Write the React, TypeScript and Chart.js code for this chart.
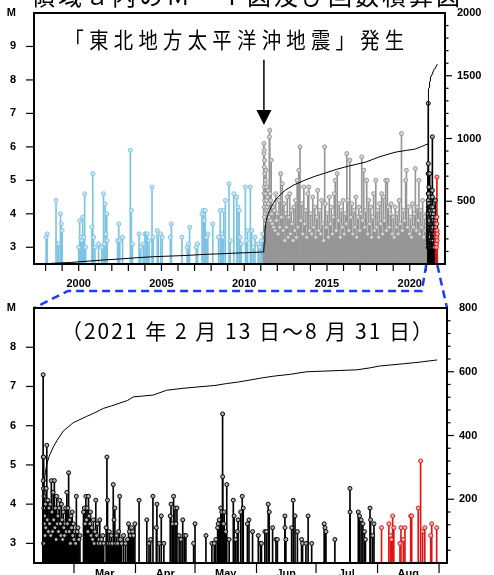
import React, { useEffect, useRef } from "react";
import { Chart, registerables } from "chart.js";

Chart.register(...registerables);

// ---------------- data ----------------
const stemBase = 2.5;
const topYearTicks = [1998, 1999, 2000, 2001, 2002, 2003, 2004, 2005, 2006, 2007, 2008, 2009, 2010, 2011, 2012, 2013, 2014, 2015, 2016, 2017, 2018, 2019, 2020, 2021];
const topYearLabels = [2000, 2005, 2010, 2015, 2020];
const topMTicks = [3, 4, 5, 6, 7, 8, 9, 10];
const bottomMTicks = [3, 4, 5, 6, 7, 8, 9];
const monthStarts = [59, 90, 120, 151, 181, 212, 243];
const monthMids = [74.5, 105, 135.5, 166, 196.5, 227.5];
const monthLabels = ["Mar", "Apr", "May", "Jun", "Jul", "Aug"];
const mainshockYear = 2011.19;
const augStartDay = 212;
const zoomFromDay = 43;
const zoomToDay = 243;

// [decimal year, M]  before the 2011 mainshock
const blueQuakes: [number, number][] = [
  [1998.03, 3.3], [1998.1, 3.4], [1998.63, 4.4], [1998.72, 3.1], [1998.8, 3.1], [1998.9, 4.0], [1998.95, 3.7], [1999.0, 3.5],
  [2000.0, 3.0], [2000.06, 3.8], [2000.12, 3.3], [2000.18, 3.2], [2000.24, 3.9], [2000.3, 3.3], [2000.36, 4.6], [2000.42, 3.0],
  [2000.8, 3.6], [2000.85, 5.2], [2000.9, 3.3], [2000.98, 3.0], [2001.2, 3.1], [2001.4, 3.0], [2001.5, 4.6], [2001.55, 3.1],
  [2001.6, 4.3], [2001.65, 3.4], [2001.7, 4.0], [2001.72, 3.2], [2002.35, 3.2], [2002.42, 3.7], [2002.48, 3.2], [2002.65, 3.3],
  [2003.12, 5.9], [2003.18, 4.1], [2003.25, 3.1], [2003.65, 3.4], [2003.75, 3.0], [2003.9, 3.1], [2004.0, 3.4], [2004.08, 3.4],
  [2004.15, 3.4], [2004.25, 3.2], [2004.43, 4.8], [2004.5, 3.3], [2004.75, 3.5], [2004.8, 3.4], [2004.95, 3.4], [2005.05, 3.3],
  [2005.54, 3.3], [2005.6, 3.7], [2006.24, 3.3], [2006.55, 3.0], [2006.62, 3.1], [2006.7, 3.6], [2007.1, 3.0], [2007.18, 3.1],
  [2007.45, 4.0], [2007.52, 4.1], [2007.58, 3.8], [2007.65, 4.1], [2007.72, 3.3], [2007.8, 3.4], [2008.1, 3.7], [2008.45, 3.3],
  [2008.55, 4.1], [2008.65, 3.4], [2008.7, 3.3], [2008.76, 4.1], [2008.86, 4.4], [2009.08, 4.9], [2009.15, 3.2], [2009.37, 4.6],
  [2009.55, 4.5], [2009.62, 4.2], [2009.7, 4.1], [2009.75, 3.3], [2009.82, 3.1], [2010.07, 4.8], [2010.12, 3.2], [2010.2, 3.5],
  [2010.37, 4.8], [2010.45, 3.5], [2010.55, 3.0], [2010.65, 3.3], [2010.84, 3.1], [2010.95, 3.0], [2011.05, 3.2], [2011.12, 3.4],
];

// [decimal year, M]  mainshock to Feb 2021
const grayQuakes: [number, number][] = [
  [2011.19, 6.1], [2011.195, 5.8], [2011.2, 4.6], [2011.205, 5.9], [2011.21, 4.2], [2011.215, 5.4], [2011.22, 4.8], [2011.225, 3.9],
  [2011.23, 5.6], [2011.235, 4.4], [2011.24, 5.2], [2011.25, 4.0], [2011.26, 4.9], [2011.27, 3.7], [2011.28, 5.0], [2011.29, 4.3],
  [2011.3, 4.6], [2011.31, 3.8], [2011.32, 5.3], [2011.33, 4.1], [2011.34, 4.4], [2011.36, 4.8], [2011.38, 4.2], [2011.4, 4.5],
  [2011.42, 4.0], [2011.44, 4.7], [2011.46, 4.3], [2011.48, 3.9], [2011.5, 4.1], [2011.52, 6.3], [2011.54, 6.5], [2011.56, 4.6],
  [2011.58, 3.8], [2011.6, 4.4], [2011.63, 5.6], [2011.66, 4.0], [2011.7, 3.7], [2011.74, 4.2], [2011.78, 3.6], [2011.82, 4.1],
  [2011.86, 3.5], [2011.9, 4.6], [2011.95, 3.8], [2012.0, 4.0], [2012.05, 3.4], [2012.1, 4.4], [2012.15, 3.6], [2012.2, 5.2],
  [2012.25, 3.9], [2012.3, 4.9], [2012.35, 3.5], [2012.4, 4.3], [2012.45, 3.2], [2012.5, 4.0], [2012.55, 3.6], [2012.6, 4.5],
  [2012.65, 3.3], [2012.7, 3.9], [2012.75, 4.6], [2012.8, 3.4], [2012.85, 4.1], [2012.9, 3.7], [2012.95, 3.2], [2013.0, 4.2],
  [2013.05, 3.5], [2013.1, 4.4], [2013.15, 3.3], [2013.2, 5.0], [2013.25, 3.6], [2013.3, 5.3], [2013.37, 6.0], [2013.42, 3.8],
  [2013.48, 4.3], [2013.54, 3.4], [2013.6, 4.8], [2013.66, 3.7], [2013.72, 4.1], [2013.78, 3.3], [2013.84, 4.6], [2013.9, 4.8],
  [2013.96, 3.5], [2014.02, 4.0], [2014.08, 3.4], [2014.14, 4.5], [2014.2, 3.6], [2014.26, 4.2], [2014.32, 3.3], [2014.38, 3.9],
  [2014.44, 4.7], [2014.5, 3.5], [2014.56, 4.1], [2014.62, 3.4], [2014.68, 4.4], [2014.74, 3.7], [2014.8, 3.2], [2014.86, 6.0],
  [2014.9, 4.3], [2014.96, 3.6], [2015.02, 4.0], [2015.08, 3.3], [2015.14, 4.5], [2015.2, 3.7], [2015.26, 4.2], [2015.32, 3.4],
  [2015.38, 3.9], [2015.44, 4.6], [2015.5, 5.0], [2015.56, 3.5], [2015.62, 5.2], [2015.68, 3.8], [2015.74, 4.3], [2015.8, 3.3],
  [2015.86, 4.1], [2015.92, 3.6], [2015.98, 4.4], [2016.04, 3.4], [2016.1, 4.0], [2016.16, 3.7], [2016.2, 5.8], [2016.26, 4.4],
  [2016.32, 3.5], [2016.38, 5.6], [2016.44, 3.9], [2016.5, 4.3], [2016.56, 3.4], [2016.62, 4.1], [2016.68, 3.6], [2016.74, 4.5],
  [2016.8, 3.3], [2016.86, 3.9], [2016.92, 4.2], [2016.98, 3.5], [2017.05, 4.0], [2017.1, 5.7], [2017.16, 3.8], [2017.22, 5.3],
  [2017.28, 3.6], [2017.34, 4.1], [2017.4, 5.0], [2017.46, 3.4], [2017.52, 4.4], [2017.58, 3.7], [2017.64, 4.2], [2017.7, 3.3],
  [2017.76, 3.9], [2017.82, 4.6], [2017.88, 3.5], [2017.95, 5.0], [2018.0, 3.6], [2018.06, 4.1], [2018.12, 3.3], [2018.18, 4.3],
  [2018.24, 3.7], [2018.3, 4.6], [2018.36, 3.4], [2018.42, 4.5], [2018.48, 3.8], [2018.55, 5.0], [2018.6, 3.5], [2018.65, 5.0],
  [2018.7, 4.2], [2018.76, 3.6], [2018.82, 4.0], [2018.88, 4.3], [2018.94, 3.4], [2019.0, 3.9], [2019.06, 3.3], [2019.12, 4.2],
  [2019.18, 3.6], [2019.24, 4.0], [2019.3, 3.4], [2019.36, 4.4], [2019.42, 3.7], [2019.5, 6.4], [2019.56, 3.5], [2019.62, 4.1],
  [2019.68, 3.8], [2019.75, 5.0], [2019.8, 5.3], [2019.86, 3.6], [2019.92, 4.2], [2019.98, 3.4], [2020.04, 3.9], [2020.1, 3.3],
  [2020.16, 4.3], [2020.22, 3.6], [2020.28, 4.0], [2020.34, 5.35], [2020.4, 3.5], [2020.45, 4.2], [2020.5, 3.8], [2020.55, 5.0],
  [2020.6, 3.4], [2020.66, 4.1], [2020.72, 3.6], [2020.78, 4.4], [2020.84, 3.3], [2020.9, 3.9], [2020.96, 3.5], [2021.02, 4.0],
  [2021.08, 3.4], [2021.11, 3.7],
];

// [day of 2021 (Jan 1 = 0), M]  Feb 13 - Aug 31, 2021
const quakes2021: [number, number][] = [
  [43.45, 7.3], [43.5, 5.2], [43.55, 4.6], [43.6, 4.4], [43.65, 3.0], [43.7, 5.2], [43.8, 3.9], [43.9, 4.2], [44.0, 3.5], [44.2, 3.7],
  [44.4, 3.2], [44.6, 4.0], [44.8, 3.4], [45.0, 4.4], [45.3, 5.5], [45.5, 3.6], [45.8, 4.1], [46.1, 3.3], [46.4, 3.9], [46.7, 3.5],
  [47.0, 4.0], [47.3, 3.2], [47.6, 4.6], [47.9, 3.8], [48.2, 3.3], [48.5, 4.3], [48.8, 3.6], [49.1, 4.6], [49.4, 3.4], [49.7, 3.9],
  [50.0, 3.1], [50.3, 4.2], [50.6, 3.5], [50.9, 3.7], [51.2, 3.3], [51.5, 3.9], [51.8, 4.1], [52.1, 3.5], [52.4, 3.2], [52.7, 4.0],
  [53.0, 3.6], [53.3, 3.1], [53.6, 3.8], [53.9, 3.4], [54.2, 3.2], [54.5, 3.5], [54.8, 3.9], [55.1, 3.3], [55.4, 4.3], [55.7, 3.5],
  [56.0, 3.9], [56.3, 4.8], [56.6, 3.3], [56.9, 3.6], [57.2, 3.0], [57.5, 3.7], [57.8, 3.4], [58.1, 3.8], [58.4, 3.2], [58.7, 3.5],
  [59.0, 3.1], [59.4, 3.3], [59.8, 3.0], [60.2, 4.2], [60.6, 3.3], [61.0, 3.4], [61.5, 3.1], [62.0, 3.2],
  [63.8, 3.8], [64.2, 3.9], [64.6, 3.5], [65.0, 4.2], [65.3, 3.6], [65.6, 3.9], [66.0, 3.3], [66.3, 4.2], [66.6, 3.7], [67.0, 3.5],
  [67.3, 3.8], [67.6, 3.2], [68.0, 3.4], [68.4, 3.1], [68.8, 3.6], [69.2, 3.0], [69.6, 3.3], [70.0, 4.1], [70.4, 3.2], [70.8, 3.5],
  [71.2, 3.0], [71.6, 3.1], [72.0, 3.6], [72.4, 3.0], [72.9, 3.1], [73.5, 3.2], [74.0, 3.0],
  [75.2, 3.4], [75.6, 5.2], [75.9, 4.1], [76.3, 3.0], [76.8, 3.3], [77.3, 3.0], [77.8, 3.2], [78.3, 3.0], [78.8, 4.5], [79.2, 3.6],
  [79.6, 3.9], [80.0, 3.0], [80.5, 3.2], [81.0, 3.0], [81.5, 3.3], [82.0, 4.2], [82.4, 3.1], [83.0, 3.0], [84.0, 3.2], [85.0, 3.0],
  [86.0, 3.1], [86.5, 3.5], [87.0, 3.3], [87.5, 3.2], [88.0, 3.4], [88.5, 3.3], [89.0, 3.2], [89.7, 3.5],
  [91.8, 4.1], [95.7, 3.6], [96.8, 3.0], [97.6, 3.1], [98.8, 4.2], [100.5, 3.4], [100.8, 4.0], [102.0, 3.0], [103.0, 3.7], [104.3, 3.0],
  [107.5, 3.7], [107.9, 4.0], [108.7, 3.5], [109.2, 4.2], [109.9, 3.9], [110.4, 3.5], [110.9, 3.9], [112.0, 3.2], [112.9, 3.1], [113.8, 3.6],
  [114.6, 3.2], [115.4, 3.2], [119.3, 3.0], [120.0, 3.5],
  [125.5, 3.2], [128.5, 3.0], [129.7, 3.0], [130.5, 3.1], [131.4, 3.4], [131.7, 3.5], [132.2, 3.6], [133.0, 3.9], [133.5, 3.8], [133.9, 6.3],
  [133.95, 4.7], [134.4, 3.5], [134.7, 3.8], [135.5, 3.3], [136.0, 4.5], [137.2, 3.1], [139.3, 4.1], [139.7, 3.7], [140.5, 3.1], [141.3, 3.3],
  [141.7, 3.6], [143.0, 3.8], [143.8, 4.2], [144.3, 3.9], [146.4, 3.5], [147.2, 3.6], [149.0, 3.3], [151.9, 3.2], [153.0, 3.0], [153.5, 3.0],
  [155.2, 3.3], [156.0, 3.3], [156.9, 4.0], [157.4, 3.8], [159.1, 3.4], [160.8, 3.1], [161.5, 3.1], [165.3, 3.7], [165.35, 3.4], [165.8, 3.1],
  [168.7, 3.4], [169.5, 4.1], [170.4, 3.7], [171.6, 3.3], [173.7, 3.1], [174.2, 3.0], [175.9, 3.0], [177.0, 3.7], [178.8, 3.0],
  [185.1, 3.5], [185.5, 3.4], [186.0, 3.3], [190.5, 3.1], [198.1, 4.4], [198.15, 3.8], [202.3, 3.8], [202.9, 3.7], [203.7, 3.6], [204.6, 3.5],
  [205.4, 3.3], [205.9, 3.1], [208.2, 3.9], [208.5, 3.6], [209.5, 3.2], [210.2, 3.5],
  [214.0, 3.4], [217.7, 3.5], [218.5, 3.2], [219.0, 3.1], [219.6, 3.7], [220.2, 3.4], [223.3, 3.0], [223.8, 3.4], [225.0, 3.1], [225.8, 3.4],
  [228.7, 3.7], [229.2, 3.7], [232.5, 3.9], [233.7, 5.1], [234.7, 3.3], [235.8, 3.4], [238.8, 3.2], [239.3, 3.5], [241.8, 3.4],
];

// cumulative number of events [decimal year, count] up to Feb 2021
const topCumulative: [number, number][] = [
  [1997.75, 0], [1998.5, 6], [1999.5, 12], [2000.5, 22], [2001.5, 32], [2002.5, 40], [2003.5, 50], [2004.5, 58], [2005.5, 63],
  [2006.5, 68], [2007.5, 76], [2008.5, 81], [2009.5, 87], [2010.5, 92], [2011.18, 96], [2011.21, 170], [2011.25, 260],
  [2011.32, 340], [2011.46, 406], [2011.65, 460], [2011.88, 510], [2012.2, 555], [2012.5, 590], [2013.0, 630], [2013.7, 670],
  [2014.3, 700], [2014.9, 725], [2015.6, 755], [2016.3, 780], [2016.8, 795], [2017.36, 813], [2017.8, 835], [2018.15, 853],
  [2018.7, 875], [2019.17, 892], [2019.78, 905], [2020.3, 915], [2020.7, 935], [2020.97, 950], [2021.1, 956],
];
const countBefore2021 = 956;

// cumulative number of events since Feb 13, 2021 [day of 2021, count]
const cumulative2021: [number, number][] = [
  [43.2, 0], [43.4, 120], [43.6, 200], [44.0, 250], [44.6, 285], [45.3, 310], [46.5, 335], [48.6, 364], [50.5, 385], [53.6, 414],
  [58.6, 440], [62, 450], [65.4, 460], [69, 470], [73.8, 485], [78, 493], [82.2, 502], [86, 510], [88.9, 521], [99, 527],
  [105.7, 542], [114, 548], [122.5, 553], [130, 557], [136, 563], [142, 568], [147.7, 574], [153, 580], [159.4, 586], [168, 592],
  [176.2, 600], [185, 602], [193, 604], [201.5, 606], [208, 612], [213, 618], [218.2, 621], [225, 625], [233, 630], [238, 634], [242, 637],
];

// ---------------- helpers ----------------
const dayToYear = (d: number) => 2021 + d / 365;

const COLORS = {
  blue: "rgb(125,195,228)",
  blueFill: "rgb(205,232,245)",
  gray: "rgb(150,150,150)",
  grayFill: "rgb(215,215,215)",
  black: "#000",
  blackFill: "rgb(175,175,175)",
  red: "rgb(225,20,20)",
  redFill: "rgb(245,180,180)",
  dash: "#1a3cff",
};

const tickFont = { family: "'Liberation Sans', Arial, sans-serif", size: 11, weight: "bold" as const };

const stems = (pts: [number, number][], color: string, label: string) => ({
  type: "bar" as const,
  label,
  data: pts.map(([x, m]) => ({ x, y: [stemBase, m] })),
  backgroundColor: color,
  borderWidth: 0,
  barThickness: 1,
  grouped: false,
  order: 3,
  yAxisID: "y",
});

const marks = (pts: [number, number][], stroke: string, fill: string, label: string) => ({
  type: "scatter" as const,
  label,
  data: pts.map(([x, m]) => ({ x, y: m })),
  borderColor: stroke,
  backgroundColor: fill,
  pointRadius: 2,
  borderWidth: 1,
  order: 2,
  yAxisID: "y",
});

const line = (ctx: CanvasRenderingContext2D, x1: number, y1: number, x2: number, y2: number) => {
  ctx.beginPath();
  ctx.moveTo(x1, y1);
  ctx.lineTo(x2, y2);
  ctx.stroke();
};

// remove the automatic edge padding Chart.js reserves for tick labels
const fixBox = (w?: number, h?: number) => (s: any) => {
  if (w !== undefined) s.width = w;
  if (h !== undefined) s.height = h;
  s.paddingTop = 0;
  s.paddingBottom = 0;
  s.paddingLeft = 0;
  s.paddingRight = 0;
};

const frameTicksPlugin = {
  id: "frameTicks",
  afterDraw(chart: any, _args: any, opts: any) {
    const { ctx, chartArea: a, scales } = chart;
    ctx.save();
    ctx.strokeStyle = "#000";
    ctx.lineWidth = 1.2;
    for (const v of opts.leftTicks) {
      const y = scales.y.getPixelForValue(v);
      line(ctx, a.left - 8, y, a.left, y);
    }
    for (const t of scales.y2.ticks) {
      if (t.value <= scales.y2.min || t.value >= scales.y2.max) continue;
      const y = scales.y2.getPixelForValue(t.value);
      const major = t.value % opts.rightMajor === 0;
      line(ctx, a.right, y, a.right + (major ? 7 : 3.5), y);
    }
    for (const v of opts.xTicks) {
      const x = scales.x.getPixelForValue(v);
      line(ctx, x, a.bottom, x, a.bottom + opts.xTickLen);
    }
    ctx.lineWidth = 2;
    ctx.strokeRect(a.left, a.top, a.right - a.left, a.bottom - a.top);
    ctx.restore();
  },
};

const topMarksPlugin = {
  id: "topMarks",
  afterDraw(chart: any, _args: any, opts: any) {
    const { ctx, chartArea: a, scales } = chart;
    const x = scales.x;
    const y = scales.y;
    ctx.save();
    // arrow to mainshock
    const ax = x.getPixelForValue(opts.arrowX);
    const y0 = y.getPixelForValue(opts.arrowFrom);
    const y1 = y.getPixelForValue(opts.arrowTo);
    ctx.strokeStyle = "#000";
    ctx.lineWidth = 1.5;
    line(ctx, ax, y0, ax, y1 - 14);
    ctx.fillStyle = "#000";
    ctx.beginPath();
    ctx.moveTo(ax - 7.5, y1 - 15);
    ctx.lineTo(ax + 7.5, y1 - 15);
    ctx.lineTo(ax, y1);
    ctx.closePath();
    ctx.fill();
    // dashed zoom connectors
    const xs = x.getPixelForValue(opts.zoomFrom);
    const xe = x.getPixelForValue(opts.zoomTo);
    ctx.strokeStyle = COLORS.dash;
    ctx.lineWidth = 2.5;
    ctx.setLineDash([8, 5]);
    ctx.beginPath();
    ctx.moveTo(xs - 2, a.bottom + 1);
    ctx.lineTo(xs - 6.5, a.bottom + 27);
    ctx.lineTo(a.left + 34, a.bottom + 27);
    ctx.lineTo(a.left, chart.height - 2);
    ctx.stroke();
    ctx.beginPath();
    ctx.moveTo(xe, a.bottom + 1);
    ctx.lineTo(a.right + 2, chart.height - 2);
    ctx.stroke();
    ctx.restore();
  },
};

const noGrid = { display: false, drawTicks: false };

export default function App() {
  const topRef = useRef<HTMLCanvasElement>(null);
  const botRef = useRef<HTMLCanvasElement>(null);

  useEffect(() => {
    const early = quakes2021.filter(([d]) => d < augStartDay);
    const aug = quakes2021.filter(([d]) => d >= augStartDay);
    const earlyY = early.map(([d, m]) => [dayToYear(d), m] as [number, number]);
    const augY = aug.map(([d, m]) => [dayToYear(d), m] as [number, number]);
    const topCum = [
      ...topCumulative.map(([x, c]) => ({ x, y: c })),
      ...cumulative2021.map(([d, c]) => ({ x: dayToYear(d), y: countBefore2021 + c })),
    ];

    const top = new Chart(topRef.current!, {
      type: "scatter",
      data: {
        datasets: [
          { type: "line", label: "cum", data: topCum, borderColor: "#000", borderWidth: 1, pointRadius: 0, tension: 0, yAxisID: "y2", order: 0 } as any,
          marks(augY, COLORS.red, COLORS.redFill, "red"),
          marks(earlyY, COLORS.black, COLORS.blackFill, "black"),
          marks(grayQuakes, COLORS.gray, COLORS.grayFill, "gray"),
          marks(blueQuakes, COLORS.blue, COLORS.blueFill, "blue"),
          stems(augY, COLORS.red, "redS"),
          stems(earlyY, COLORS.black, "blackS"),
          stems(grayQuakes, COLORS.gray, "grayS"),
          stems(blueQuakes, COLORS.blue, "blueS"),
        ] as any,
      },
      options: {
        responsive: false,
        animation: false,
        layout: { padding: { top: 13, left: 0, right: 0, bottom: 0 } },
        plugins: {
          legend: { display: false },
          tooltip: { enabled: false },
          frameTicks: { leftTicks: [3, 4, 5, 6, 7, 8, 9], rightMajor: 500, xTicks: topYearTicks, xTickLen: 7 },
          topMarks: { arrowX: mainshockYear, arrowFrom: 8.6, arrowTo: 6.65, zoomFrom: dayToYear(zoomFromDay), zoomTo: dayToYear(zoomToDay) },
        } as any,
        scales: {
          x: {
            type: "linear",
            min: 1997.3,
            max: 2022.13,
            offset: false,
            grid: noGrid,
            border: { display: false },
            afterBuildTicks: (s: any) => { s.ticks = topYearTicks.map((v) => ({ value: v })); },
            afterFit: fixBox(undefined, 46),
            ticks: {
              autoSkip: false,
              maxRotation: 0,
              padding: 13,
              color: "#000",
              font: tickFont,
              callback: (v: any) => (topYearLabels.includes(Number(v)) ? String(v) : ""),
            },
          },
          y: {
            type: "linear",
            position: "left",
            min: 2.5,
            max: 10,
            grid: noGrid,
            border: { display: false },
            afterBuildTicks: (s: any) => { s.ticks = topMTicks.map((v) => ({ value: v })); },
            afterFit: fixBox(34),
            ticks: { padding: 18, color: "#000", font: tickFont, callback: (v: any) => (Number(v) === 10 ? "M" : String(v)) },
          },
          y2: {
            type: "linear",
            position: "right",
            min: 0,
            max: 2000,
            grid: noGrid,
            border: { display: false },
            afterFit: fixBox(49),
            ticks: {
              stepSize: 100,
              autoSkip: false,
              padding: 12,
              color: "#000",
              font: tickFont,
              callback: (v: any) => (Number(v) % 500 === 0 && Number(v) > 0 ? String(v) : ""),
            },
          },
        },
      },
      plugins: [frameTicksPlugin, topMarksPlugin],
    });

    const bottom = new Chart(botRef.current!, {
      type: "scatter",
      data: {
        datasets: [
          { type: "line", label: "cum", data: cumulative2021.map(([x, c]) => ({ x, y: c })), borderColor: "#000", borderWidth: 1, pointRadius: 0, tension: 0, yAxisID: "y2", order: 0 } as any,
          marks(aug, COLORS.red, COLORS.redFill, "red"),
          marks(early, COLORS.black, COLORS.blackFill, "black"),
          stems(aug, COLORS.red, "redS"),
          stems(early, COLORS.black, "blackS"),
        ] as any,
      },
      options: {
        responsive: false,
        animation: false,
        layout: { padding: { top: 18, left: 0, right: 0, bottom: 0 } },
        plugins: {
          legend: { display: false },
          tooltip: { enabled: false },
          frameTicks: { leftTicks: [3, 4, 5, 6, 7, 8], rightMajor: 200, xTicks: monthStarts, xTickLen: 10 },
        } as any,
        scales: {
          x: {
            type: "linear",
            min: 38.85,
            max: 247,
            offset: false,
            grid: noGrid,
            border: { display: false },
            afterBuildTicks: (s: any) => { s.ticks = monthMids.map((v) => ({ value: v })); },
            afterFit: fixBox(undefined, 12),
            ticks: {
              autoSkip: false,
              maxRotation: 0,
              padding: 4,
              color: "#000",
              font: tickFont,
              callback: (_v: any, i: number) => monthLabels[i],
            },
          },
          y: {
            type: "linear",
            position: "left",
            min: 2.5,
            max: 9,
            grid: noGrid,
            border: { display: false },
            afterBuildTicks: (s: any) => { s.ticks = bottomMTicks.map((v) => ({ value: v })); },
            afterFit: fixBox(34),
            ticks: { padding: 18, color: "#000", font: tickFont, callback: (v: any) => (Number(v) === 9 ? "M" : String(v)) },
          },
          y2: {
            type: "linear",
            position: "right",
            min: 0,
            max: 800,
            grid: noGrid,
            border: { display: false },
            afterFit: fixBox(47),
            ticks: {
              stepSize: 40,
              autoSkip: false,
              padding: 12,
              color: "#000",
              font: tickFont,
              callback: (v: any) => (Number(v) % 200 === 0 && Number(v) > 0 ? String(v) : ""),
            },
          },
        },
      },
      plugins: [frameTicksPlugin],
    });

    return () => {
      top.destroy();
      bottom.destroy();
    };
  }, []);

  const cjk = "'Noto Sans CJK JP', 'Noto Sans', sans-serif";

  return (
    <div style={{ position: "absolute", left: 0, top: 0, width: 494, height: 575, overflow: "hidden", background: "#fff" }}>
      <canvas ref={topRef} width={494} height={310} style={{ position: "absolute", left: 0, top: 0, width: 494, height: 310 }} />
      <canvas ref={botRef} width={494} height={285} style={{ position: "absolute", left: 0, top: 290, width: 494, height: 285 }} />
      <div style={{ position: "absolute", left: 0, top: -17, width: 494, textAlign: "center", fontFamily: cjk, fontSize: 24, lineHeight: "24px", letterSpacing: 3, color: "#000", whiteSpace: "nowrap" }}>
        領域ａ内のＭ－Ｔ図及び回数積算図
      </div>
      <div style={{ position: "absolute", left: 0, top: 27, width: 474, textAlign: "center", fontFamily: cjk, fontSize: 22, lineHeight: "22px", letterSpacing: 6, color: "#000", whiteSpace: "nowrap", transform: "scaleX(0.88)", transformOrigin: "237px 0" }}>
        「東北地方太平洋沖地震」発生
      </div>
      <div style={{ position: "absolute", left: 0, top: 320, width: 496, textAlign: "center", fontFamily: cjk, fontSize: 21, lineHeight: "21px", letterSpacing: 2, color: "#000", whiteSpace: "nowrap" }}>
        （2021 年 2 月 13 日～8 月 31 日）
      </div>
    </div>
  );
}
